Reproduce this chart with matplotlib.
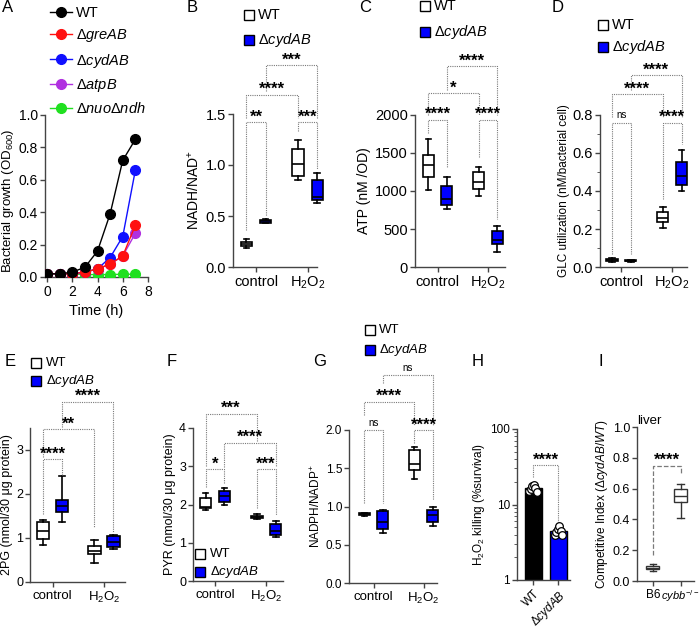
import numpy as np
import matplotlib
matplotlib.use("Agg")
import matplotlib.pyplot as plt
from matplotlib.lines import Line2D

plt.rcParams["font.family"] = ["Liberation Sans", "DejaVu Sans"]
plt.rcParams["mathtext.fontset"] = "custom"
plt.rcParams["mathtext.rm"] = "Liberation Sans"
plt.rcParams["mathtext.it"] = "Liberation Sans:italic"
plt.rcParams["mathtext.bf"] = "Liberation Sans:bold"
plt.rcParams["xtick.major.pad"] = 2
plt.rcParams["ytick.major.pad"] = 1.5

# ---- data ----
# A: growth curves
time_h = [0, 1, 2, 3, 4, 5, 6, 7]
growth_labels = ["WT", r"Δ$\mathit{greAB}$", r"Δ$\mathit{cydAB}$", r"Δ$\mathit{atpB}$",
                 r"Δ$\mathit{nuo}$Δ$\mathit{ndh}$"]
growth_colors = ["black", "#ff1010", "#1010ff", "#b030e0", "#20e020"]
od_wt = [0.02, 0.02, 0.03, 0.06, 0.16, 0.39, 0.72, 0.85]
od_greab = [0.02, 0.02, 0.02, 0.03, 0.05, 0.08, 0.13, 0.32]
od_cydab = [0.02, 0.02, 0.02, 0.03, 0.05, 0.12, 0.25, 0.66]
od_atpb = [0.02, 0.02, 0.02, 0.03, 0.05, 0.08, 0.13, 0.27]
od_nuondh = [0.02, 0.02, 0.02, 0.015, 0.015, 0.015, 0.017, 0.017]
od_wt_err = [0, 0, 0, 0, 0, 0, 0.02, 0]

strains = ["WT", r"Δ$\mathit{cydAB}$"]
box_colors = ["white", "#0000ff"]
conditions = ["control", r"H$_2$O$_2$"]

# box stats: (whislo, q1, med, q3, whishi) for WT ctrl, cydAB ctrl, WT H2O2, cydAB H2O2
nadh_boxes = [(0.19, 0.21, 0.23, 0.25, 0.27), (0.43, 0.435, 0.45, 0.46, 0.47),
              (0.85, 0.89, 1.01, 1.155, 1.25), (0.63, 0.66, 0.69, 0.85, 0.92)]
atp_boxes = [(1010, 1190, 1340, 1480, 1690), (760, 810, 900, 1060, 1180),
             (930, 1030, 1120, 1250, 1310), (200, 300, 360, 470, 540)]
glc_boxes = [(0.025, 0.03, 0.035, 0.04, 0.045), (0.028, 0.03, 0.033, 0.035, 0.037),
             (0.205, 0.235, 0.26, 0.29, 0.315), (0.40, 0.43, 0.48, 0.555, 0.615)]
pg_boxes = [(0.84, 0.98, 1.15, 1.37, 1.41), (1.37, 1.6, 1.72, 1.87, 2.42),
            (0.44, 0.63, 0.71, 0.81, 0.96), (0.74, 0.80, 0.90, 1.04, 1.06)]
pyr_boxes = [(1.86, 1.9, 1.93, 2.16, 2.29), (2.0, 2.07, 2.22, 2.35, 2.43),
             (1.62, 1.64, 1.67, 1.70, 1.76), (1.16, 1.2, 1.32, 1.5, 1.56)]
nadph_boxes = [(0.88, 0.885, 0.9, 0.915, 0.92), (0.66, 0.7, 0.8, 0.94, 0.96),
               (1.36, 1.48, 1.56, 1.74, 1.78), (0.74, 0.8, 0.89, 0.96, 1.0)]

# significance brackets: (box i, box j, top, leg end i, leg end j, label)
nadh_sig = [(0, 1, 1.42, 0.36, 0.50, "**"), (2, 3, 1.42, 1.33, 0.96, "***"),
            (0, 2, 1.69, 1.46, 1.46, "****"), (1, 3, 1.98, 1.73, 1.46, "***")]
atp_sig = [(0, 1, 1936, 1760, 1300, "****"), (2, 3, 1936, 1452, 638, "****"),
           (0, 2, 2288, 2000, 2000, "*"), (1, 3, 2640, 2332, 2000, "****")]
glc_sig = [(0, 1, 0.76, 0.07, 0.07, "ns"), (2, 3, 0.76, 0.36, 0.65, "****"),
           (0, 2, 0.91, 0.79, 0.79, "****"), (1, 3, 1.01, 0.93, 0.79, "****")]
pg_sig = [(0, 1, 2.79, 1.55, 2.43, "****"), (0, 2, 3.47, 2.85, 1.25, "**"),
          (1, 3, 4.10, 3.53, 1.14, "****")]
pyr_sig = [(0, 1, 2.92, 2.45, 2.55, "*"), (2, 3, 2.92, 1.9, 1.72, "***"),
           (1, 3, 3.62, 2.97, 2.97, "****"), (0, 2, 4.37, 3.0, 3.65, "***")]
nadph_sig = [(0, 1, 2.0, 1.04, 1.04, "ns"), (2, 3, 2.0, 1.83, 1.09, "****"),
             (0, 2, 2.37, 2.2, 2.07, "****"), (1, 3, 2.72, 2.61, 2.07, "ns")]

# H: H2O2 killing
kill_mean = [16.5, 4.5]
kill_points = [[15.0, 16.0, 17.5, 18.0, 16.5, 14.5], [3.9, 4.3, 4.7, 5.2, 4.5, 4.0]]
kill_colors = ["black", "#0000ff"]

# I: competitive index
ci_groups = ["B6", r"$\mathit{cybb}^{-/-}$"]
ci_boxes = [(0.065, 0.075, 0.085, 0.1, 0.11), (0.41, 0.51, 0.55, 0.6, 0.63)]

W, H = 700, 630
fig = plt.figure(figsize=(7, 6.3), dpi=100)
AX_COL = "#444444"


def px_axes(l, t, r, b):
    ax = fig.add_axes([l / W, 1 - b / H, (r - l) / W, (b - t) / H])
    for s in ["top", "right"]:
        ax.spines[s].set_visible(False)
    for s in ["left", "bottom"]:
        ax.spines[s].set_color(AX_COL)
        ax.spines[s].set_linewidth(1.0)
    ax.tick_params(colors=AX_COL, labelcolor="black", length=3.5, width=1.0)
    ax.patch.set_alpha(0)
    return ax


def box_x(k, off=0.185):
    return (k // 2) + (k % 2 - 0.5) * 2 * off


def box_panel(ax, boxes, sig, fs_tick, width=0.22):
    stats = [dict(whislo=b[0], q1=b[1], med=b[2], q3=b[3], whishi=b[4], fliers=[]) for b in boxes]
    pos = [box_x(k) for k in range(len(boxes))]
    art = ax.bxp(stats, positions=pos, widths=width, patch_artist=True, showfliers=False,
                 manage_ticks=False,
                 boxprops=dict(linewidth=1.2, edgecolor="black"),
                 medianprops=dict(color="black", linewidth=1.2),
                 whiskerprops=dict(color="black", linewidth=1.2),
                 capprops=dict(color="black", linewidth=1.2))
    for k, p in enumerate(art["boxes"]):
        p.set_facecolor(box_colors[k % 2])
    for group in art.values():
        for a in group:
            a.set_clip_on(False)
    ax.set_xticks([0, 1])
    ax.set_xticklabels(conditions, fontsize=fs_tick)
    for i, j, top, ei, ej, lab in sig:
        bracket(ax, pos[i], pos[j], top, ei, ej, lab)


def bracket(ax, xa, xb, top, ea, eb, lab, ls=(0, (1, 1)), lw=0.8):
    ax.plot([xa, xa, xb, xb], [ea, top, top, eb], ls=ls, color="#7a7a7a", lw=lw, clip_on=False)
    if lab == "ns":
        ax.annotate(lab, xy=((xa + xb) / 2, top), xytext=(0, 3), textcoords="offset points",
                    ha="center", va="baseline", fontsize=7, annotation_clip=False)
    else:
        ax.annotate(lab, xy=((xa + xb) / 2, top), xytext=(0, 0.5), textcoords="offset points",
                    ha="center", va="baseline", fontsize=12, fontweight="bold",
                    annotation_clip=False)


def square_legend(x, y, dy, fs, tx):
    for k, lab in enumerate(strains):
        yy = 1 - (y + k * dy) / H
        fig.add_artist(Line2D([x / W], [yy], marker="s", ms=6.5, mfc=box_colors[k], mec="black",
                              mew=1.0, ls="none", transform=fig.transFigure))
        fig.text(tx / W, yy, lab, fontsize=fs, va="center", ha="left")


# ---- A ----
axA = px_axes(45, 115, 148, 277)
series = [od_wt, od_greab, od_cydab, od_atpb, od_nuondh]
for k in range(len(series) - 1, -1, -1):
    err = od_wt_err if k == 0 else None
    axA.errorbar(time_h, series[k], yerr=err, color=growth_colors[k], marker="o", ms=7,
                 lw=1.0, capsize=2.5, elinewidth=1.0, label=growth_labels[k], zorder=3 + (5 - k))
axA.set_xlim(-0.16, 8)
axA.set_ylim(0, 1.0)
axA.set_xticks([0, 2, 4, 6, 8])
axA.set_yticks(np.arange(0, 1.01, 0.2))
axA.set_yticklabels(["0.0", "0.2", "0.4", "0.6", "0.8", "1.0"])
axA.tick_params(labelsize=10)
axA.set_xlabel("Time (h)", fontsize=10.5)
axA.set_ylabel(r"Bacterial growth (OD$_{600}$)", fontsize=9.5)
axA.yaxis.set_label_coords(-0.28, 0.47)
handles = [Line2D([0], [0], color=growth_colors[k], marker="o", ms=7, lw=1.0) for k in range(5)]
fig.legend(handles, growth_labels, loc="upper left", bbox_to_anchor=(50 / W, 1 - 6 / H),
           frameon=False, fontsize=10.5, handlelength=1.5, handletextpad=0.3,
           labelspacing=0.5, borderpad=0, borderaxespad=0)

# ---- B ----
axB = px_axes(233, 114, 317, 267)
box_panel(axB, nadh_boxes, nadh_sig, 10.5)
axB.set_xlim(-0.445, 1.18)
axB.set_ylim(0, 1.5)
axB.set_yticks([0, 0.5, 1.0, 1.5])
axB.set_yticklabels(["0.0", "0.5", "1.0", "1.5"])
axB.tick_params(axis="y", labelsize=10.5)
axB.set_ylabel(r"NADH/NAD$^{+}$", fontsize=10, labelpad=3)
square_legend(249, 15, 25, 10.5, 258)

# ---- C ----
axC = px_axes(415, 115, 505, 267)
box_panel(axC, atp_boxes, atp_sig, 10.5)
axC.set_xlim(-0.45, 1.34)
axC.set_ylim(0, 2000)
axC.set_yticks([0, 500, 1000, 1500, 2000])
axC.tick_params(axis="y", labelsize=10.5)
axC.set_ylabel("ATP (nM /OD)", fontsize=10, labelpad=3)
square_legend(425, 6, 26, 10.5, 434)

# ---- D ----
axD = px_axes(600, 115, 687, 267)
box_panel(axD, glc_boxes, glc_sig, 10.5)
axD.set_xlim(-0.42, 1.29)
axD.set_ylim(0, 0.8)
axD.set_yticks([0, 0.2, 0.4, 0.6, 0.8])
axD.set_yticklabels(["0.0", "0.2", "0.4", "0.6", "0.8"])
axD.set_yticks([0.1, 0.3, 0.5, 0.7], minor=True)
axD.tick_params(axis="y", which="minor", length=2.5, colors=AX_COL)
axD.tick_params(axis="y", labelsize=10.5)
axD.set_ylabel("GLC utilization (nM/bacterial cell)", fontsize=8.5, labelpad=2)
square_legend(603, 25, 22, 10.5, 612)

# ---- E ----
axE = px_axes(30, 428, 125, 582)
box_panel(axE, pg_boxes, pg_sig, 9.5, width=0.24)
axE.set_xlim(-0.44, 1.41)
axE.set_ylim(0, 3.5)
axE.set_yticks([0, 1, 2, 3])
axE.tick_params(axis="y", labelsize=9)
axE.set_ylabel("2PG (nmol/30 μg protein)", fontsize=9, labelpad=2)
square_legend(36, 363, 18, 9.5, 46)

# ---- F ----
axF = px_axes(193, 428, 283, 581)
box_panel(axF, pyr_boxes, pyr_sig, 9.5, width=0.23)
axF.set_xlim(-0.43, 1.33)
axF.set_ylim(0, 4)
axF.set_yticks([0, 1, 2, 3, 4])
axF.tick_params(axis="y", labelsize=9)
axF.set_ylabel("PYR (nmol/30 μg protein)", fontsize=9, labelpad=2)
square_legend(200, 554, 18, 9.5, 210)

# ---- G ----
axG = px_axes(349, 430, 437, 583)
box_panel(axG, nadph_boxes, nadph_sig, 9.5)
axG.set_xlim(-0.49, 1.27)
axG.set_ylim(0, 2.0)
axG.set_yticks([0, 0.5, 1.0, 1.5, 2.0])
axG.set_yticklabels(["0.0", "0.5", "1.0", "1.5", "2.0"])
axG.tick_params(axis="y", labelsize=8.5)
axG.set_ylabel(r"NADPH/NADP$^{+}$", fontsize=8.5, labelpad=2)
square_legend(370, 330, 20, 9.5, 379)

# ---- H ----
axH = px_axes(517, 429, 570, 580)
axH.bar([0, 1], kill_mean, width=0.67, color=kill_colors, edgecolor="black", lw=1.0, zorder=2)
for k, pts in enumerate(kill_points):
    offs = np.linspace(-0.15, 0.15, len(pts))
    axH.plot(k + offs, pts, "o", ms=5.5, mfc="white", mec="black", mew=0.9, zorder=3)
axH.set_yscale("log")
axH.set_ylim(1, 100)
axH.set_xlim(-0.64, 1.46)
axH.set_yticks([1, 10, 100])
axH.set_yticklabels(["1", "10", "100"])
axH.tick_params(axis="y", which="minor", length=2, colors=AX_COL)
axH.tick_params(axis="y", labelsize=8.5)
axH.set_xticks([0, 1])
axH.set_xticklabels(strains, rotation=45, ha="right", rotation_mode="anchor", fontsize=8.5)
axH.set_ylabel(r"H$_2$O$_2$ killing (%survival)", fontsize=8.5, labelpad=2)
bracket(axH, 0, 1, 33, 23, 5.9, "****")

# ---- I ----
axI = px_axes(637, 427, 694, 581)
ci_stats = [dict(whislo=b[0], q1=b[1], med=b[2], q3=b[3], whishi=b[4], fliers=[]) for b in ci_boxes]
axI.bxp(ci_stats, positions=[0, 1], widths=0.46, patch_artist=True, showfliers=False,
        manage_ticks=False,
        boxprops=dict(linewidth=1.0, edgecolor="#333333", facecolor="white"),
        medianprops=dict(color="#333333", linewidth=1.0),
        whiskerprops=dict(color="#333333", linewidth=1.0),
        capprops=dict(color="#333333", linewidth=1.0))
axI.set_xlim(-0.57, 1.48)
axI.set_ylim(0, 1.0)
axI.set_yticks(np.arange(0, 1.01, 0.2))
axI.set_yticklabels(["0.0", "0.2", "0.4", "0.6", "0.8", "1.0"])
axI.tick_params(axis="y", labelsize=9)
axI.set_xticks([0, 1])
axI.set_xticklabels(ci_groups, fontsize=8.5)
axI.get_xticklabels()[1].set_fontsize(8)
axI.set_ylabel(r"Competitive Index (Δ$\mathit{cydAB/WT}$)", fontsize=8.5, labelpad=2)
axI.set_title("liver", fontsize=9.5, loc="left", pad=2)
bracket(axI, 0, 1, 0.75, 0.17, 0.70, "****", ls="--", lw=0.9)

# panel letters
for lab, x, y in [("A", 8, 8), ("B", 192, 8), ("C", 365, 8), ("D", 558, 8), ("E", 10, 362),
                  ("F", 172, 362), ("G", 320, 362), ("H", 478, 362), ("I", 601, 362)]:
    fig.text(x / W, 1 - y / H, lab, fontsize=12, ha="center", va="center")

fig.savefig("out.png", dpi=100)
